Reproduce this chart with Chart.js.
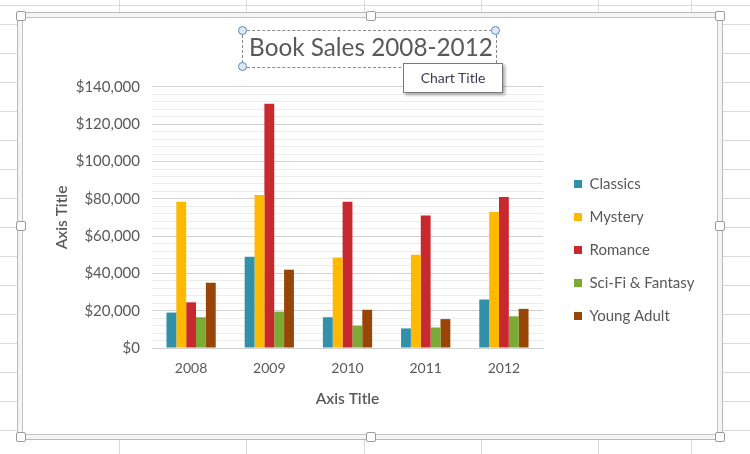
<!DOCTYPE html>
<html>
<head>
<meta charset="utf-8">
<script src="https://cdn.jsdelivr.net/npm/chart.js@4.4.1/dist/chart.umd.min.js"></script>
<style>
  body { margin: 0; width: 750px; height: 454px; overflow: hidden; position: relative; background: #fff; font-family: Lato, sans-serif; }
  .sheet { position: absolute; left: 0; top: 0; width: 750px; height: 454px;
    background-image: repeating-linear-gradient(180deg, #dadada 0 1px, transparent 1px 29px);
    background-position: 0 24px; }
  .col { position: absolute; top: 0; width: 1px; height: 454px; background: #dadada; }
  .frame { position: absolute; left: 17px; top: 12px; width: 704px; height: 426px; border: 1px solid #b8b8b8; background: #f4f4f4; }
  .inner { position: absolute; left: 4px; top: 4px; right: 4px; bottom: 4px; border: 1px solid #c4c4c4; background: #fff; }
  .handle { position: absolute; width: 8px; height: 8px; margin: -5px 0 0 -5px; background: #fff; border: 1px solid #9a9a9a; border-radius: 2px; z-index: 3; }
  #wrap { position: absolute; left: 0; top: 0; width: 750px; height: 454px; z-index: 2; }
  .selbox { position: absolute; left: 242px; top: 30px; width: 253px; height: 36px; border: 1px dashed #8a8a8a; z-index: 3; }
  .dot { position: absolute; width: 7px; height: 7px; margin: -5px 0 0 -5px; border-radius: 50%; border: 1.5px solid #5a86c0; background: #dde8f6; z-index: 4; }
  .tip { position: absolute; left: 403px; top: 63px; width: 98px; height: 28px; border: 1px solid #7a7a7a; background: #fff;
    box-shadow: 2px 2px 3px rgba(0,0,0,0.35); z-index: 5; font: 14px Lato, sans-serif; color: #3b3b55; line-height: 28px; text-align: center; }
</style>
</head>
<body>
<div class="sheet"></div>
<div class="col" style="left:119px"></div>
<div class="col" style="left:246px"></div>
<div class="col" style="left:364px"></div>
<div class="col" style="left:481px"></div>
<div class="col" style="left:598px"></div>
<div class="col" style="left:691px"></div>
<div class="frame"><div class="inner"></div></div>
<div class="handle" style="left:21px;top:16px"></div>
<div class="handle" style="left:371px;top:16px"></div>
<div class="handle" style="left:720px;top:16px"></div>
<div class="handle" style="left:21px;top:226px"></div>
<div class="handle" style="left:720px;top:226px"></div>
<div class="handle" style="left:21px;top:437px"></div>
<div class="handle" style="left:371px;top:437px"></div>
<div class="handle" style="left:720px;top:437px"></div>
<div id="wrap"><canvas id="salesChart"></canvas></div>
<div class="selbox"></div>
<div class="dot" style="left:243px;top:31px"></div>
<div class="dot" style="left:496px;top:31px"></div>
<div class="dot" style="left:243px;top:67px"></div>
<div class="tip">Chart Title</div>
<script>
const years = ['2008', '2009', '2010', '2011', '2012'];
const classics = [19000, 49000, 16500, 10500, 26000];
const mystery = [78500, 82000, 48500, 50000, 73000];
const romance = [24500, 131000, 78500, 71000, 81000];
const sciFi = [16500, 19500, 12000, 11000, 17000];
const youngAdult = [35000, 42000, 20500, 15500, 21000];

const textColor = '#595959';
Chart.defaults.font.family = 'Lato';
Chart.defaults.color = textColor;

// measure legend the way chart.js does, so the plot right edge lands at 543
const legendSize = 15;
const legendPad = 18;
const mctx = document.createElement('canvas').getContext('2d');
mctx.font = legendSize + 'px Lato';
const labels = ['Classics', 'Mystery', 'Romance', 'Sci-Fi & Fantasy', 'Young Adult'];
const textW = Math.max(...labels.map(t => mctx.measureText(t).width));
const legendW = legendPad + 8 + legendSize / 2 + textW + 10;
const gapW = 13;
const padRight = 750 - 543 - gapW - legendW;
const padLeft = padRight - 8;

const axisTitleFont = { size: 15.5, weight: 600 };

const ctx = document.getElementById('salesChart').getContext('2d');
const salesChart = new Chart(ctx, {
    type: 'bar',
    data: {
        labels: years,
        datasets: [
            { label: 'Classics', data: classics, backgroundColor: '#3390a9' },
            { label: 'Mystery', data: mystery, backgroundColor: '#ffb900' },
            { label: 'Romance', data: romance, backgroundColor: '#c8292f' },
            { label: 'Sci-Fi & Fantasy', data: sciFi, backgroundColor: '#7baa35' },
            { label: 'Young Adult', data: youngAdult, backgroundColor: '#984508' }
        ]
    },
    options: {
        responsive: true,
        maintainAspectRatio: false,
        animation: false,
        categoryPercentage: 0.63,
        barPercentage: 1.0,
        layout: { padding: { top: 14, left: padLeft, right: padRight, bottom: 40 } },
        plugins: {
            tooltip: { enabled: false },
            title: {
                display: true,
                text: 'Book Sales 2008-2012',
                color: textColor,
                font: { size: 24.3, weight: 'normal' },
                padding: { top: 19.4, bottom: 24.4 }
            },
            legend: {
                position: 'right',
                maxWidth: 400,
                title: { display: true, text: ' ', font: { size: 10 }, padding: { top: 0, bottom: 60 } },
                labels: {
                    boxWidth: 8,
                    boxHeight: 8,
                    padding: legendPad,
                    color: textColor,
                    font: { size: legendSize }
                }
            }
        },
        scales: {
            x: {
                grid: { display: false, drawTicks: false },
                border: { display: true, color: '#d0d0d0' },
                ticks: { padding: 12, font: { size: 14 }, color: textColor },
                title: { display: true, text: 'Axis Title', color: textColor, font: axisTitleFont, padding: { top: 0, bottom: 5.6 } },
                afterFit: s => { s.height = 66; }
            },
            y: {
                min: 0,
                max: 140000,
                border: { display: false },
                grid: {
                    drawTicks: false,
                    color: c => (c.tick && c.tick.value % 20000 === 0) ? '#d0d0d0' : '#ebebeb'
                },
                ticks: {
                    stepSize: 4000,
                    autoSkip: false,
                    padding: 12,
                    font: { size: 15 },
                    color: textColor,
                    callback: v => v % 20000 === 0 ? '$' + v.toLocaleString('en-US') : ''
                },
                title: { display: true, text: 'Axis Title', color: textColor, font: axisTitleFont, padding: { top: 62 - padLeft - 9.3, bottom: 0 } },
                afterFit: s => { s.width = 152 - padLeft; }
            },
            gap: {
                type: 'linear',
                position: 'right',
                grid: { display: false },
                border: { display: false },
                ticks: { display: false },
                afterFit: s => { s.width = gapW; }
            }
        }
    }
});
</script>
</body>
</html>
